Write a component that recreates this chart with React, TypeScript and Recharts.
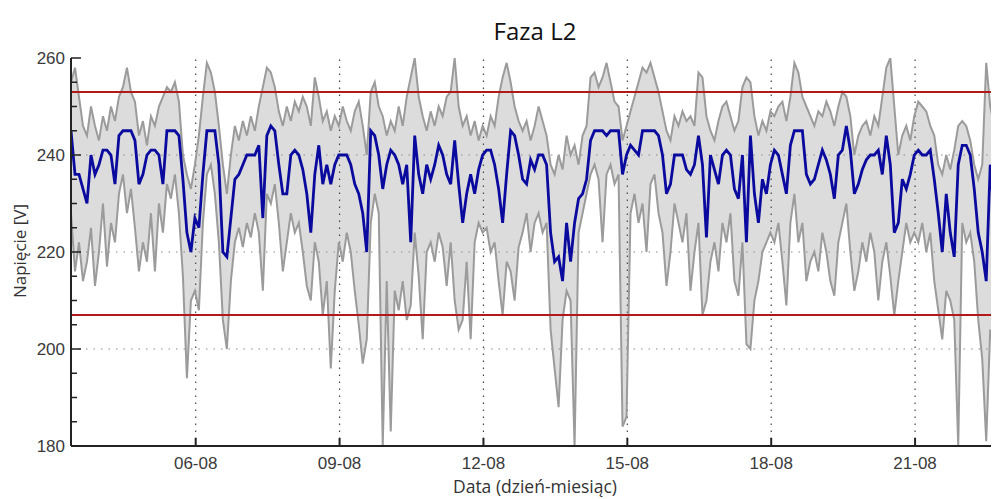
import { ComposedChart, Line, Area, XAxis, YAxis, ReferenceLine } from 'recharts';

// samples every 2 h, first one at day 3.4 (03-08)
const START_DAY = 3.4;
const STEP = 1 / 12;

const avgV = [
  245, 236, 236, 233, 230, 240, 236, 238, 241, 241, 240, 234, 244, 245, 245, 245, 243, 234, 236, 240,
  241, 241, 240, 234, 245, 245, 245, 244, 235, 224, 220, 227, 225, 236, 245, 245, 245, 238, 220,
  219, 227, 235, 236, 238, 240, 240, 240, 242, 227, 244, 246, 245, 238, 232, 232, 240, 241, 240, 237,
  232, 224, 236, 242, 234, 238, 234, 238, 240, 240, 240, 238, 234, 232, 228, 220, 245, 244, 240,
  233, 238, 241, 240, 238, 234, 238, 222, 244, 236, 232, 238, 235, 238, 242, 240, 236, 234, 243, 234,
  226, 232, 236, 232, 237, 240, 241, 241, 238, 233, 226, 236, 245, 244, 240, 235, 234, 239, 237,
  240, 240, 238, 224, 218, 219, 214, 226, 218, 226, 231, 232, 235, 243, 245, 245, 245, 244, 245, 245,
  245, 236, 240, 242, 241, 240, 245, 245, 245, 245, 244, 240, 232, 234, 240, 240, 240, 237,
  236, 238, 244, 238, 223, 240, 237, 234, 240, 241, 240, 233, 231, 240, 222, 244, 232, 226, 235, 232,
  238, 241, 240, 236, 232, 242, 245, 245, 245, 236, 234, 235, 238, 241, 239, 236, 231, 240,
  241, 246, 241, 232, 234, 237, 239, 240, 240, 241, 236, 244, 238, 224, 226, 235, 233, 236, 240, 241,
  240, 240, 241, 235, 228, 220, 232, 224, 219, 238, 242, 242, 240, 233, 224, 220, 214, 238, 228, 236,
  240, 238, 236,
];

const maxV = [
  255, 258, 252, 246, 244, 250, 246, 243, 248, 245, 250, 247, 252, 254, 258, 253, 251, 244, 247, 242,
  248, 246, 250, 252, 254, 253, 255, 251, 240, 236, 233, 238, 244, 252, 259, 257, 253, 246, 238,
  232, 240, 246, 243, 247, 244, 248, 245, 250, 254, 258, 257, 254, 249, 246, 250, 247, 251, 249, 252,
  250, 246, 256, 252, 247, 249, 245, 248, 246, 250, 247, 245, 249, 251, 246, 240, 253, 255, 250,
  248, 244, 247, 245, 250, 246, 252, 256, 260, 252, 248, 245, 249, 246, 250, 248, 252, 253, 260, 250,
  246, 248, 244, 247, 243, 246, 244, 248, 246, 252, 256, 259, 255, 250, 247, 245, 247, 243, 246,
  250, 247, 244, 238, 236, 240, 237, 244, 240, 242, 238, 244, 246, 256, 257, 254, 256, 259, 255, 251,
  250, 243, 246, 249, 252, 255, 258, 257, 259, 256, 253, 249, 245, 243, 248, 246, 249, 247,
  248, 246, 257, 256, 248, 245, 243, 247, 250, 251, 248, 245, 247, 254, 256, 255, 248, 244, 247, 245,
  249, 248, 250, 251, 247, 252, 259, 257, 252, 250, 248, 246, 249, 248, 251, 249, 246, 250,
  253, 252, 248, 240, 244, 246, 247, 244, 248, 246, 252, 258, 260, 250, 240, 244, 246, 243, 248, 251,
  250, 249, 246, 244, 238, 236, 240, 237, 241, 246, 247, 246, 243, 238, 235, 238, 259, 250, 246, 248,
  251, 247, 245,
];

const minV = [
  228, 216, 222, 214, 218, 225, 213, 220, 230, 217, 226, 222, 232, 236, 228, 233, 225, 216, 222, 218,
  228, 216, 230, 224, 234, 231, 236, 228, 215, 194, 210, 212, 208, 226, 236, 238, 232, 222, 206,
  200, 214, 222, 225, 221, 226, 223, 228, 224, 212, 232, 230, 234, 226, 216, 222, 228, 224, 226, 220,
  213, 210, 222, 218, 207, 214, 196, 212, 222, 218, 224, 220, 212, 205, 197, 202, 226, 232, 228,
  180, 214, 183, 212, 208, 214, 206, 209, 224, 215, 202, 220, 222, 218, 224, 221, 213, 222, 210, 204,
  206, 218, 202, 222, 226, 224, 225, 220, 222, 214, 207, 218, 216, 210, 221, 224, 228, 220, 226,
  228, 224, 226, 204, 196, 188, 206, 212, 210, 180, 224, 228, 232, 236, 238, 235, 222, 236, 238, 234,
  236, 184, 186, 228, 232, 226, 230, 220, 234, 236, 228, 224, 213, 220, 230, 226, 222, 228,
  212, 220, 226, 207, 210, 218, 222, 216, 226, 222, 228, 214, 211, 222, 201, 200, 210, 214, 220, 222,
  224, 222, 226, 218, 209, 226, 232, 222, 226, 214, 218, 220, 216, 224, 220, 214, 211, 222,
  226, 230, 220, 212, 216, 222, 218, 224, 220, 210, 218, 222, 215, 207, 214, 220, 226, 222, 224, 222,
  226, 220, 224, 214, 208, 202, 212, 210, 206, 180, 226, 222, 224, 218, 206, 198, 181, 204, 200, 190,
  208, 214, 218,
];

const dayTicks = [6, 9, 12, 15, 18, 21];
const dayLabels = ['06-08', '09-08', '12-08', '15-08', '18-08', '21-08'];
const yTicks = [180, 185, 190, 195, 200, 205, 210, 215, 220, 225, 230, 235, 240, 245, 250, 255, 260];
const gridY = [200, 220, 240];
const limits = [253, 207];

const data = avgV.map((v, i) => ({
  t: START_DAY + i * STEP,
  avg: v,
  max: maxV[i],
  min: minV[i],
  band: [minV[i], maxV[i]],
}));

const tickFont = '"Liberation Sans", Arial, sans-serif';
const axisColor = '#222';

function YTick(props: any) {
  const { x, y, payload } = props;
  const v = payload.value;
  const major = v % 20 === 0;
  const ax = x + 5;
  return (
    <g>
      <line x1={ax} x2={ax + (major ? 10 : 6)} y1={y} y2={y} stroke={axisColor} strokeWidth={1.5} />
      {major && (
        <text x={x - 1} y={y} dy={6} textAnchor="end" fontSize={17} fill="#3a3a3a" fontFamily={tickFont}>
          {v}
        </text>
      )}
    </g>
  );
}

function XTick(props: any) {
  const { x, y, payload } = props;
  const ay = y - 12;
  const idx = dayTicks.indexOf(payload.value);
  return (
    <g>
      <line x1={x} x2={x} y1={ay} y2={ay - 8} stroke={axisColor} strokeWidth={2} />
      <text x={x} y={ay + 23} textAnchor="middle" fontSize={17} fill="#3a3a3a" fontFamily={tickFont}>
        {dayLabels[idx]}
      </text>
    </g>
  );
}

function TopTick(props: any) {
  const { x, y } = props;
  return <line x1={x} x2={x} y1={y} y2={y + 8} stroke={axisColor} strokeWidth={2} />;
}

export default function App() {
  return (
    <div style={{ position: 'relative', width: 991, height: 491, overflow: 'hidden', fontFamily: '"Open Sans", sans-serif' }}>
      <div style={{ position: 'absolute', left: 527, top: 22, transform: 'translate(-50%, -50%)', fontSize: 24, color: '#111', whiteSpace: 'nowrap' }}>
        Faza L2
      </div>
      <div style={{ position: 'absolute', left: 11, top: 243, transform: 'translate(-50%, -50%) rotate(-90deg)', fontSize: 17, lineHeight: 1, color: '#333', whiteSpace: 'nowrap' }}>
        Napięcie [V]
      </div>
      <div style={{ position: 'absolute', left: 527, top: 478, transform: 'translate(-50%, -50%)', fontSize: 17.5, color: '#333', whiteSpace: 'nowrap', lineHeight: 1.2 }}>
        Data (dzień-miesiąc)
      </div>
      <div style={{ position: 'absolute', left: 0, top: 0 }}>
        <ComposedChart width={1003} height={491} data={data} margin={{ top: 50, right: 0, left: 0, bottom: 0 }}>
          <XAxis
            dataKey="t"
            type="number"
            domain={[3.4, 23]}
            allowDataOverflow
            ticks={dayTicks}
            interval={0}
            height={53}
            tickSize={0}
            tickMargin={12}
            tick={<XTick />}
            axisLine={{ stroke: axisColor, strokeWidth: 2 }}
          />
          <XAxis
            xAxisId="top"
            orientation="top"
            dataKey="t"
            type="number"
            domain={[3.4, 23]}
            allowDataOverflow
            ticks={dayTicks}
            interval={0}
            height={0}
            tickSize={0}
            tickMargin={0}
            tick={<TopTick />}
            axisLine={{ stroke: axisColor, strokeWidth: 2 }}
          />
          <YAxis
            domain={[180, 260]}
            allowDataOverflow
            ticks={yTicks}
            interval={0}
            width={63}
            tickSize={0}
            tickMargin={5}
            tick={<YTick />}
            axisLine={{ stroke: axisColor, strokeWidth: 2 }}
          />
          {gridY.map((v) => (
            <ReferenceLine key={`gy-${v}`} y={v} stroke="#8a8a8a" strokeWidth={1.2} strokeDasharray="1.5 6" />
          ))}
          {dayTicks.map((d) => (
            <ReferenceLine key={`gx-${d}`} x={d} stroke="#444" strokeWidth={1.2} strokeDasharray="1.5 5.5" />
          ))}
          <Area dataKey="band" stroke="none" fill="#9b9b9b" fillOpacity={0.35} dot={false} activeDot={false} isAnimationActive={false} />
          <Line dataKey="max" stroke="#9b9b9b" strokeWidth={2} dot={false} isAnimationActive={false} />
          <Line dataKey="min" stroke="#9b9b9b" strokeWidth={2} dot={false} isAnimationActive={false} />
          <Line dataKey="avg" stroke="#0a0a9e" strokeWidth={2.8} dot={false} isAnimationActive={false} />
          {limits.map((v) => (
            <ReferenceLine key={`lim-${v}`} y={v} stroke="#b21a1a" strokeWidth={2} />
          ))}
        </ComposedChart>
      </div>
    </div>
  );
}
